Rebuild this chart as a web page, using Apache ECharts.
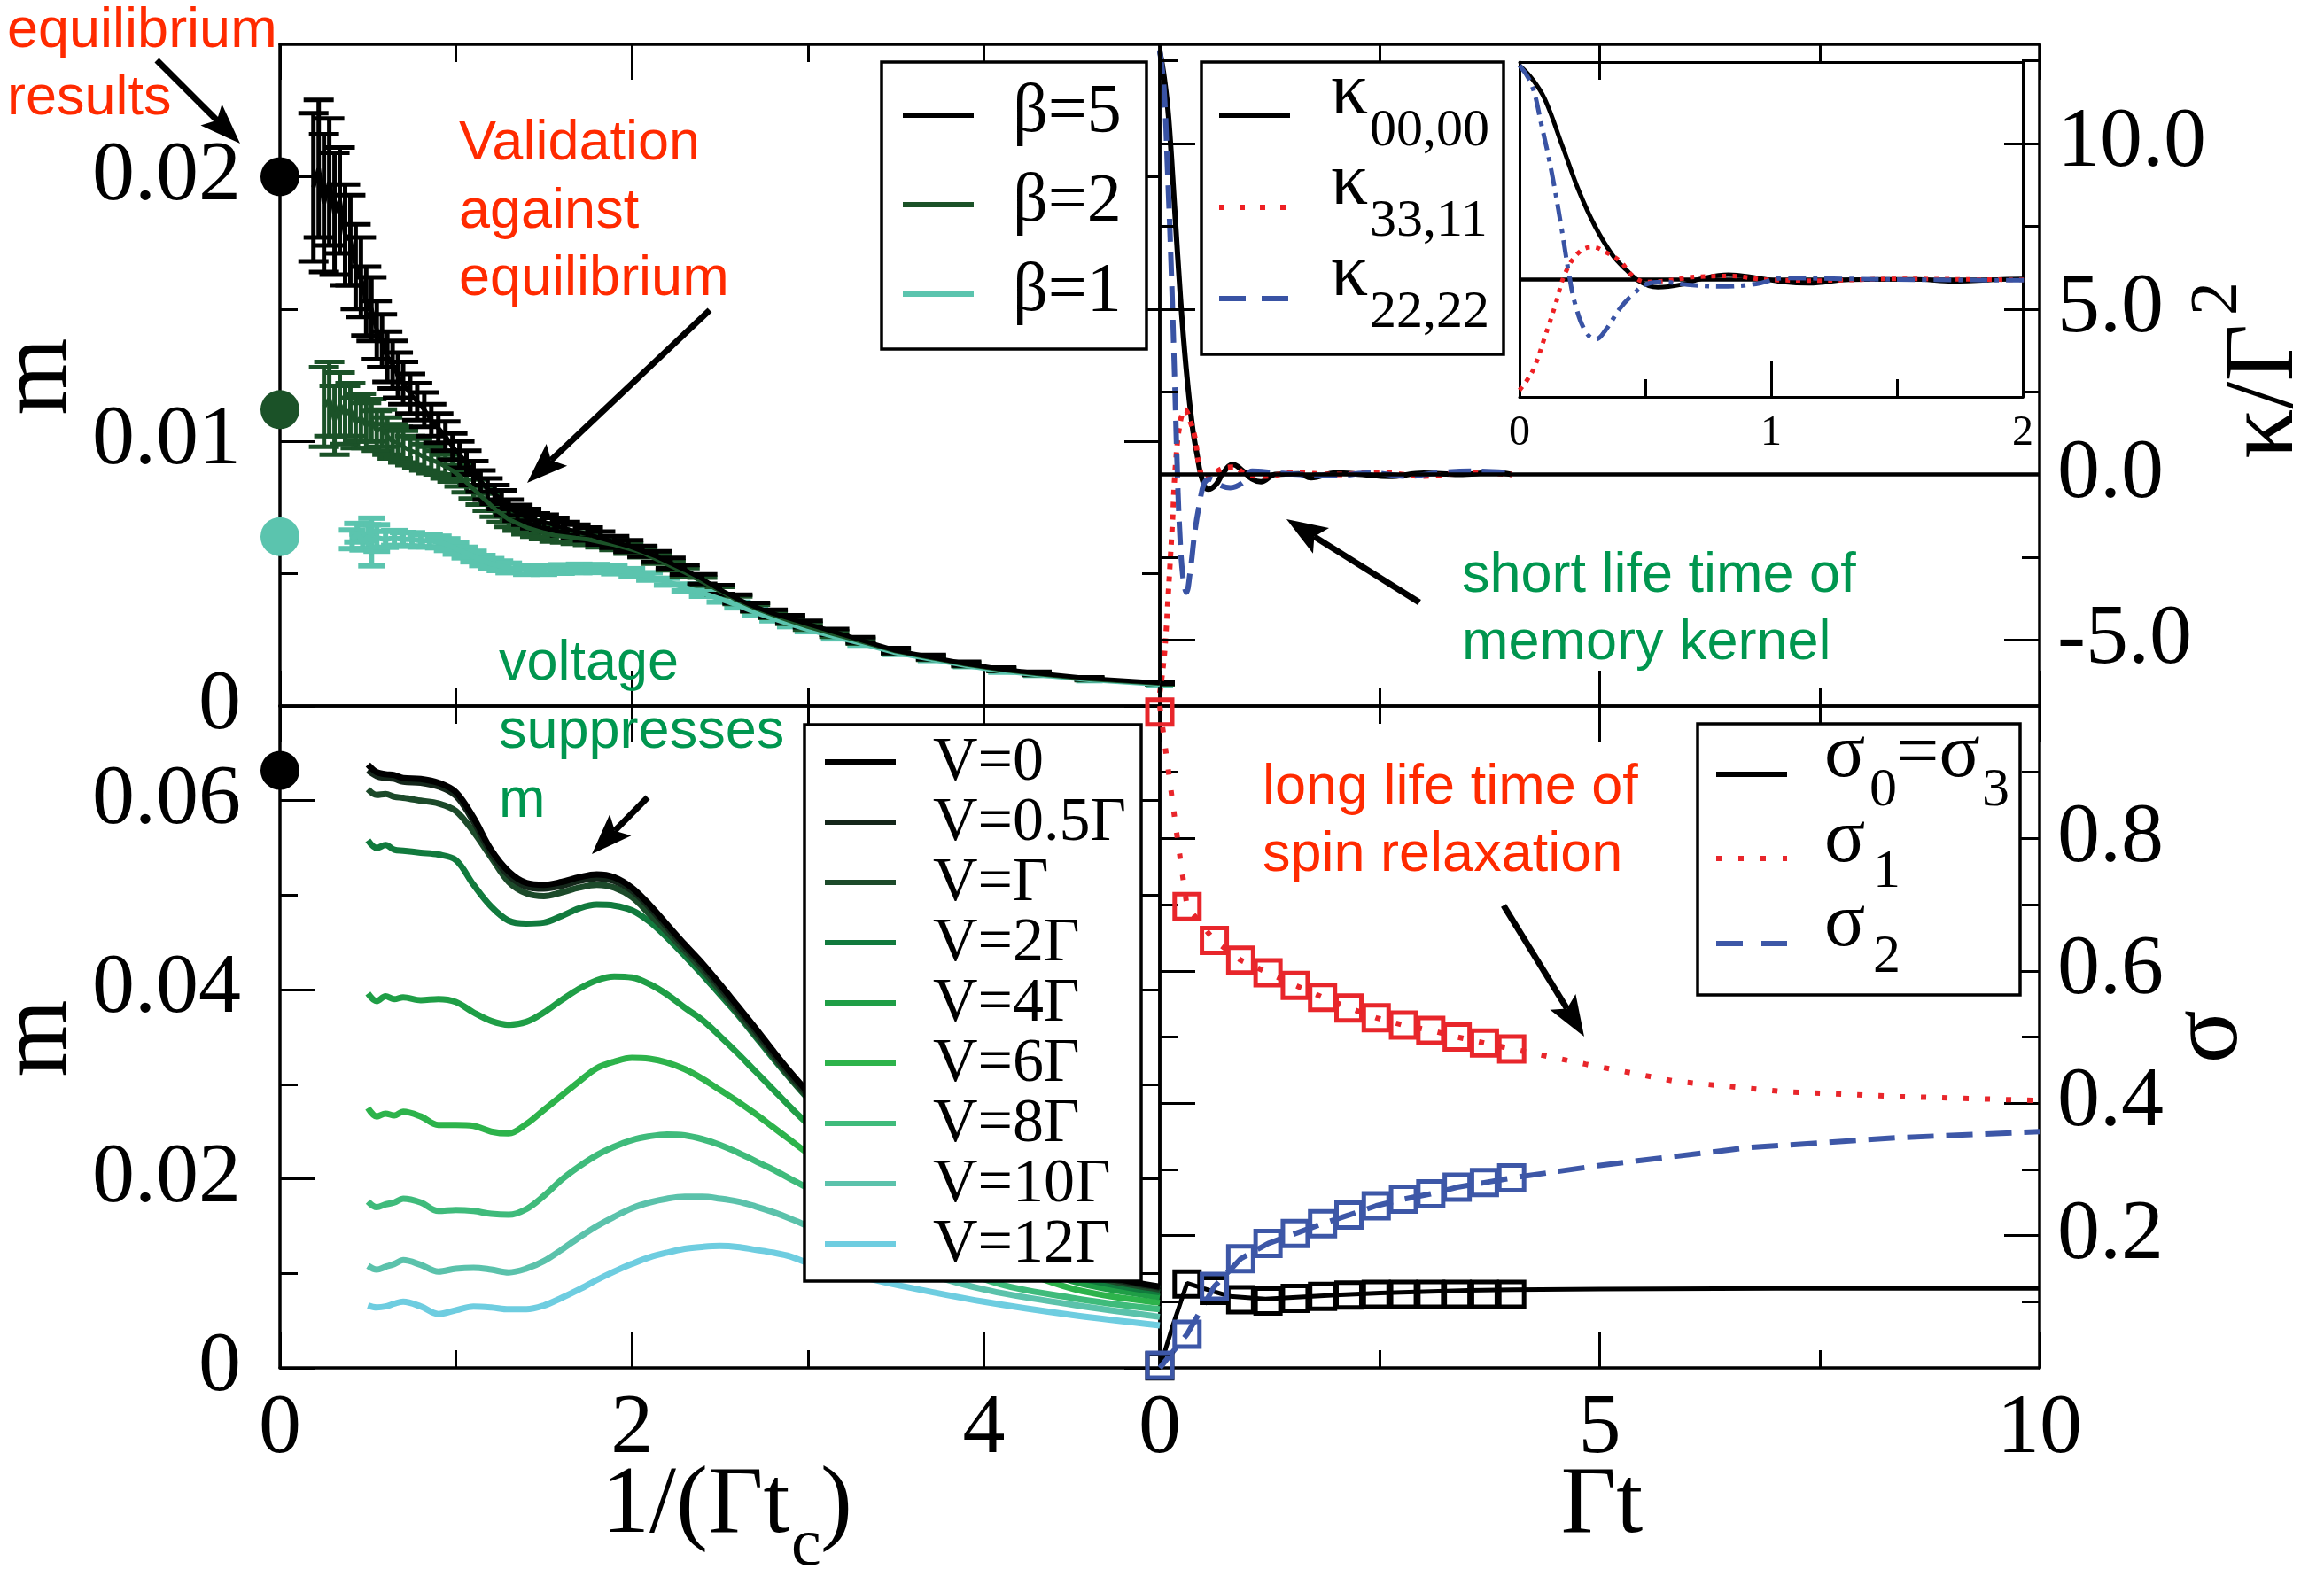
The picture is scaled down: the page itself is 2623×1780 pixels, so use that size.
<!DOCTYPE html>
<html><head><meta charset="utf-8">
<script src="https://cdn.jsdelivr.net/npm/echarts@6/dist/echarts.min.js"></script>
<style>html,body{margin:0;padding:0;background:#fff}#c{width:2623px;height:1780px}</style>
</head><body><div id="c"></div>
<script>
// ================= DATA =================
// top-left: m vs 1/(Γ t_c), [x, m, error]
const beta5 = [[0.19,0.0196,0.0028],[0.22,0.0203,0.0026],[0.25,0.0190,0.0026],[0.28,0.0198,0.0024],[0.31,0.0186,0.0023],[0.34,0.0191,0.0020],[0.37,0.0178,0.0019],[0.40,0.0176,0.0017],[0.43,0.0166,0.0016],[0.46,0.0162,0.0015],[0.49,0.0153,0.0013],[0.52,0.0150,0.0012],[0.55,0.0142,0.0011],[0.58,0.0138,0.0010],[0.61,0.0132,0.00095],[0.64,0.0129,0.0009],[0.67,0.0125,0.00085],[0.70,0.0122,0.0008],[0.74,0.0118,0.00075],[0.78,0.0115,0.0007],[0.82,0.0112,0.00065],[0.86,0.0108,0.0006],[0.90,0.0105,0.00055],[0.94,0.0102,0.00055],[0.98,0.0098,0.0005],[1.02,0.0095,0.0005],[1.06,0.0092,0.00045],[1.10,0.0088,0.00045],[1.14,0.0085,0.0004],[1.18,0.0082,0.0004],[1.22,0.0080,0.00035],[1.26,0.0078,0.00035],[1.30,0.0075,0.0003],[1.35,0.0073,0.0003],[1.40,0.00715,0.0003],[1.45,0.0070,0.00028],[1.50,0.00695,0.00028],[1.56,0.00685,0.00026],[1.62,0.0067,0.00025],[1.68,0.0066,0.00025],[1.75,0.0065,0.00024],[1.82,0.00635,0.00024],[1.90,0.0062,0.00022],[1.98,0.00605,0.00022],[2.06,0.00585,0.0002],[2.14,0.00565,0.0002],[2.22,0.0054,0.0002],[2.30,0.00515,0.00018],[2.40,0.0048,0.00018],[2.50,0.0044,0.00017],[2.60,0.00405,0.00016],[2.70,0.00375,0.00015],[2.80,0.0035,0.00014],[2.90,0.0033,0.00013],[3.00,0.0031,0.00012],[3.15,0.0028,0.00011],[3.30,0.0025,0.0001],[3.50,0.0021,0.00009],[3.70,0.00185,0.00008],[3.90,0.0016,0.00007],[4.10,0.0014,0.00006],[4.30,0.00125,0.00005],[4.60,0.00105,0.00004],[5.00,0.00088,0.00003]];
const beta2 = [[0.25,0.0113,0.0015],[0.28,0.0116,0.0014],[0.31,0.0108,0.0013],[0.34,0.0114,0.0012],[0.37,0.0110,0.0011],[0.40,0.0112,0.0010],[0.43,0.0107,0.00095],[0.46,0.0109,0.0009],[0.49,0.0106,0.00085],[0.52,0.0108,0.0008],[0.55,0.0104,0.00075],[0.58,0.0105,0.0007],[0.61,0.0102,0.0007],[0.64,0.0100,0.00065],[0.67,0.00995,0.0006],[0.70,0.0098,0.0006],[0.74,0.00965,0.00055],[0.78,0.00955,0.00055],[0.82,0.0094,0.0005],[0.86,0.0093,0.0005],[0.90,0.0092,0.00045],[0.94,0.00905,0.00045],[0.98,0.0089,0.00042],[1.02,0.0087,0.0004],[1.06,0.00845,0.00038],[1.10,0.0082,0.00036],[1.14,0.00795,0.00034],[1.18,0.0077,0.00032],[1.22,0.00745,0.0003],[1.26,0.00725,0.0003],[1.30,0.00705,0.00028],[1.35,0.0069,0.00027],[1.40,0.00675,0.00026],[1.45,0.00665,0.00025],[1.50,0.00655,0.00024],[1.56,0.00645,0.00023],[1.62,0.0064,0.00022],[1.68,0.00635,0.00022],[1.75,0.0063,0.00021],[1.82,0.0062,0.0002],[1.90,0.0061,0.0002],[1.98,0.00595,0.00019],[2.06,0.0058,0.00018],[2.14,0.00555,0.00017],[2.22,0.0053,0.00017],[2.30,0.00505,0.00016],[2.40,0.0047,0.00015],[2.50,0.00435,0.00015],[2.60,0.0040,0.00014],[2.70,0.0037,0.00013],[2.80,0.00345,0.00012],[2.90,0.00322,0.00012],[3.00,0.0030,0.00011],[3.15,0.00272,0.0001],[3.30,0.00245,0.00009],[3.50,0.00207,0.00008],[3.70,0.00182,0.00007],[3.90,0.00157,0.00006],[4.10,0.00137,0.00005],[4.30,0.00122,0.00005],[4.60,0.00102,0.00004],[5.00,0.00085,0.00003]];
const beta1 = [[0.41,0.0063,0.00035],[0.44,0.00655,0.00035],[0.47,0.0062,0.0003],[0.50,0.0064,0.00045],[0.52,0.0062,0.0009],[0.55,0.00635,0.0005],[0.60,0.0063,0.0003],[0.65,0.00635,0.00028],[0.70,0.0063,0.00026],[0.75,0.0063,0.00025],[0.80,0.00625,0.00024],[0.85,0.00625,0.00023],[0.90,0.0062,0.00022],[0.95,0.0061,0.00022],[1.00,0.00595,0.00021],[1.05,0.0058,0.0002],[1.10,0.00565,0.0002],[1.15,0.0055,0.00019],[1.20,0.00538,0.00019],[1.25,0.0053,0.00018],[1.30,0.00522,0.00018],[1.40,0.00515,0.00017],[1.50,0.00515,0.00017],[1.60,0.00518,0.00016],[1.70,0.0052,0.00016],[1.80,0.0052,0.00015],[1.90,0.00515,0.00015],[2.00,0.00505,0.00014],[2.10,0.0049,0.00014],[2.20,0.0047,0.00013],[2.30,0.00448,0.00013],[2.40,0.00427,0.00012],[2.50,0.00405,0.00012],[2.60,0.00382,0.00011],[2.70,0.00355,0.00011],[2.80,0.00332,0.0001],[2.90,0.0031,0.0001],[3.00,0.0029,0.00009],[3.15,0.00263,0.00009],[3.30,0.00238,0.00008],[3.50,0.00202,0.00007],[3.70,0.00178,0.00006],[3.90,0.00154,0.00005],[4.10,0.00133,0.00005],[4.30,0.0012,0.00004],[4.60,0.001,0.00004],[5.00,0.00083,0.00003]];
const betaNames = ['β=5', 'β=2', 'β=1'];
const eqBeta = [0.0200, 0.0112, 0.0064];   // equilibrium results at x = 0
const eqV0 = 0.0632;

// bottom-left: m vs 1/(Γ t_c) for several voltages
const vX = [0.5,0.55,0.6,0.65,0.7,0.8,0.9,1.0,1.1,1.2,1.3,1.4,1.5,1.6,1.7,1.8,1.9,2.0,2.1,2.2,2.3,2.4,2.5,2.6,2.7,2.8,2.9,3.0,3.25,3.5,4.0,4.5,5.0];
const vNames = ['V=0','V=0.5Γ','V=Γ','V=2Γ','V=4Γ','V=6Γ','V=8Γ','V=10Γ','V=12Γ'];
const mV0  = [0.0638,0.0630,0.0628,0.0627,0.0624,0.0623,0.0619,0.0609,0.0582,0.0548,0.0525,0.0513,0.0511,0.0514,0.0519,0.0522,0.0519,0.0508,0.0490,0.0469,0.0448,0.0428,0.0406,0.0383,0.0360,0.0336,0.0313,0.0292,0.0245,0.0202,0.0146,0.0106,0.0086];
const mV05 = [0.0632,0.0626,0.0624,0.0623,0.0620,0.0619,0.0615,0.0605,0.0578,0.0544,0.0521,0.0509,0.0507,0.0510,0.0515,0.0518,0.0515,0.0505,0.0487,0.0466,0.0445,0.0425,0.0403,0.0380,0.0357,0.0333,0.0310,0.0289,0.0242,0.0200,0.0144,0.0104,0.0085];
const mV1  = [0.0612,0.0606,0.0607,0.0604,0.0603,0.0600,0.0597,0.0589,0.0567,0.0540,0.0514,0.0502,0.0499,0.0503,0.0508,0.0511,0.0508,0.0498,0.0480,0.0461,0.0441,0.0421,0.0399,0.0376,0.0353,0.0330,0.0307,0.0286,0.0240,0.0198,0.0143,0.0102,0.0083];
const mV2  = [0.0558,0.0550,0.0553,0.0548,0.0547,0.0545,0.0543,0.0537,0.0511,0.0488,0.0473,0.0470,0.0471,0.0478,0.0486,0.0490,0.0489,0.0484,0.0472,0.0455,0.0436,0.0416,0.0395,0.0374,0.0351,0.0328,0.0306,0.0285,0.0238,0.0195,0.0140,0.0098,0.0080];
const mV4  = [0.0396,0.0388,0.0393,0.0390,0.0392,0.0389,0.0390,0.0387,0.0376,0.0367,0.0363,0.0366,0.0376,0.0389,0.0401,0.0410,0.0414,0.0413,0.0406,0.0395,0.0381,0.0368,0.0351,0.0333,0.0314,0.0295,0.0276,0.0258,0.0217,0.0180,0.0130,0.0092,0.0075];
const mV6  = [0.0275,0.0266,0.0269,0.0267,0.0271,0.0266,0.0257,0.0257,0.0256,0.0250,0.0248,0.0258,0.0273,0.0288,0.0303,0.0317,0.0324,0.0328,0.0327,0.0323,0.0316,0.0306,0.0294,0.0282,0.0269,0.0255,0.0241,0.0227,0.0195,0.0165,0.0120,0.0084,0.0069];
const mV8  = [0.0176,0.0170,0.0173,0.0175,0.0179,0.0175,0.0166,0.0167,0.0166,0.0163,0.0162,0.0168,0.0182,0.0199,0.0213,0.0225,0.0234,0.0241,0.0245,0.0247,0.0246,0.0242,0.0236,0.0228,0.0219,0.0210,0.0200,0.0190,0.0163,0.0140,0.0094,0.0074,0.0062];
const mV10 = [0.0108,0.0104,0.0107,0.0110,0.0114,0.0109,0.0102,0.0105,0.0106,0.0104,0.0101,0.0105,0.0113,0.0125,0.0138,0.0150,0.0160,0.0169,0.0175,0.0179,0.0181,0.0181,0.0179,0.0176,0.0171,0.0165,0.0158,0.0150,0.0129,0.0110,0.0083,0.0067,0.0054];
const mV12 = [0.0066,0.0064,0.0065,0.0068,0.0070,0.0065,0.0057,0.0061,0.0065,0.0064,0.0062,0.0062,0.0066,0.0074,0.0083,0.0093,0.0102,0.0110,0.0117,0.0122,0.0126,0.0128,0.0129,0.0128,0.0125,0.0122,0.0118,0.0111,0.0099,0.0088,0.0070,0.0056,0.0045];

// top-right: memory kernels κ/Γ² vs Γt, [t, value]
const k00 = [[0,12.8],[0.05,12.0],[0.10,10.8],[0.17,8.0],[0.236,5.3],[0.30,3.2],[0.37,1.46],[0.425,0.58],[0.48,-0.13],[0.55,-0.45],[0.64,-0.3],[0.72,0.05],[0.83,0.3],[0.94,0.12],[1.05,-0.14],[1.15,-0.22],[1.31,0],[1.58,0.02],[1.72,-0.1],[2.0,0.05],[2.3,0],[2.6,-0.06],[3.0,0.04],[3.4,0],[3.8,0.06],[4.0,0]];
const k33 = [[0,-6.6],[0.03,-6.0],[0.06,-5.2],[0.10,-3.45],[0.142,-1.53],[0.182,0.4],[0.236,1.63],[0.29,1.95],[0.344,1.63],[0.40,1.1],[0.45,0.23],[0.506,-0.13],[0.587,-0.05],[0.71,0.18],[0.84,0.22],[0.98,0],[1.2,-0.05],[1.5,0.05],[2.0,0],[2.5,0.06],[3.0,-0.05],[3.5,0.06],[4.0,0]];
const k22 = [[0,12.8],[0.047,11.7],[0.088,9.2],[0.128,6.4],[0.169,2.9],[0.196,0.4],[0.222,-1.5],[0.263,-3.1],[0.303,-3.56],[0.344,-2.97],[0.40,-1.7],[0.45,-0.9],[0.506,-0.26],[0.573,-0.14],[0.667,-0.3],[0.80,-0.4],[0.94,-0.25],[1.05,0.1],[1.31,0.05],[1.6,0],[2.0,-0.03],[2.4,0.05],[2.8,-0.05],[3.2,0.06],[3.6,0.1],[4.0,0.05]];

// bottom-right: σ vs Γt ; squares = data points, lines = curves
const sigT   = [0,0.31,0.62,0.92,1.23,1.54,1.85,2.15,2.46,2.77,3.08,3.38,3.69,4.0];
const sig0Sq = [0.003,0.127,0.117,0.103,0.101,0.105,0.108,0.110,0.111,0.111,0.111,0.111,0.111,0.111];
const sig1Sq = [0.991,0.697,0.646,0.616,0.597,0.578,0.560,0.544,0.529,0.518,0.510,0.500,0.491,0.482];
const sig2Sq = [0.004,0.051,0.123,0.165,0.188,0.203,0.218,0.231,0.245,0.255,0.263,0.273,0.280,0.287];
const sig0Line = [[0,0],[0.15,0.065],[0.31,0.128],[0.5,0.12],[0.8,0.108],[1.2,0.104],[1.6,0.107],[2.0,0.11],[2.5,0.113],[3.0,0.115],[3.5,0.117],[4.0,0.118],[5.0,0.119],[7.0,0.12],[10.0,0.12]];
const sig1Line = [[0,1.0],[0.1,0.9],[0.2,0.8],[0.31,0.697],[0.62,0.646],[0.92,0.616],[1.23,0.597],[1.54,0.578],[1.85,0.56],[2.15,0.544],[2.46,0.529],[2.77,0.518],[3.08,0.51],[3.38,0.5],[3.69,0.491],[4.0,0.482],[4.84,0.459],[5.86,0.433],[7.13,0.417],[8.41,0.41],[10,0.404]];
const sig2Line = [[0,0],[0.31,0.051],[0.62,0.123],[0.92,0.165],[1.23,0.188],[1.54,0.203],[1.85,0.218],[2.15,0.231],[2.46,0.245],[2.77,0.255],[3.08,0.263],[3.38,0.273],[3.69,0.28],[4.0,0.287],[5.0,0.306],[6.7,0.333],[8.4,0.348],[10,0.357]];

// tick values / labels
const leftXMajor = [0,2,4], leftXMinor = [1,3], leftXLabVals = [0,2,4], leftXLabels = ['0','2','4'];
const tlYMajor = [0,0.01,0.02], tlYMinor = [0.005,0.015], tlYLabels = ['0','0.01','0.02'];
const blYMajor = [0,0.02,0.04,0.06], blYMinor = [0.01,0.03,0.05], blYLabels = ['0','0.02','0.04','0.06'];
const rightXMajor = [0,5,10], rightXMinor = [2.5,7.5], rightXLabVals = [0,5,10], rightXLabels = ['0','5','10'];
const kYMajor = [-5,0,5,10], kYMinor = [-2.5,2.5,7.5,12.5], kYLabels = ['-5.0','0.0','5.0','10.0'];
const sYMajor = [0.2,0.4,0.6,0.8], sYMinor = [0.1,0.3,0.5,0.7,0.9], sYLabels = ['0.2','0.4','0.6','0.8'];
const inXMajor = [0,1,2], inXMinor = [0.5,1.5], inXLabels = ['0','1','2'];

// ================= STYLE / LAYOUT =================
const SERIF = "'Liberation Serif','Times New Roman',serif";
const SANS = "'Liberation Sans',Arial,sans-serif";
const RED_TXT = '#ff2a00', GREEN_TXT = '#00964f';
const betaColors = ['#000000', '#1b5228', '#5bc4ae'];
const vColors = ['#000000','#14261a','#1c4a2a','#117a3d','#1f9e46','#2db34b','#3fbb7b','#5bc2ab','#6ecde0'];
const K_RED = '#ee2024', K_BLUE = '#3953a4';
const S_RED = '#e8262b', S_BLUE = '#3d57a7';

const grids = [
  {left:316, top:50, width:993, height:747},
  {left:316, top:797, width:993, height:747},
  {left:1309, top:50, width:993, height:747},
  {left:1309, top:797, width:993, height:747},
  {left:1715, top:70, width:568, height:378, show:true, backgroundColor:'#fff', borderWidth:0, z:3}
].map(g => Object.assign({containLabel:false, outerBoundsMode:'none'}, g));

const xAxis = [], yAxis = [];
function addAxes(arr, grid, sides, c) {
  const first = arr.length;
  sides.forEach(side => {
    const lab = side === c.labelSide;
    arr.push({
      type:'value', gridIndex:grid, position:side, min:c.min, max:c.max, z:c.z || 3,
      splitLine:{show:false},
      axisLine:{show:true, onZero:false, lineStyle:{color:'#000', width:c.lw || 3.5}},
      axisTick:{show:!!c.major, inside:true, length:c.majorLen || 40, lineStyle:{color:'#000', width:3}, customValues:c.major || []},
      axisLabel:{show:lab, customValues:c.labelVals, fontFamily:SERIF, fontSize:c.fontSize || 96, color:'#000', margin:c.margin || 0,
        formatter:(v) => { const i = (c.labelVals || []).indexOf(v); return i >= 0 ? c.labelText[i] : ''; }}
    });
    if (c.minor) {
      arr.push({
        type:'value', gridIndex:grid, position:side, min:c.min, max:c.max, z:c.z || 3,
        splitLine:{show:false}, axisLine:{show:false, onZero:false},
        axisTick:{show:true, inside:true, length:c.minorLen || 20, lineStyle:{color:'#000', width:3}, customValues:c.minor},
        axisLabel:{show:false}
      });
    }
  });
  return first;
}
const ax = {};
ax.tlX = addAxes(xAxis, 0, ['bottom','top'], {min:0, max:5, major:leftXMajor, minor:leftXMinor});
ax.tlY = addAxes(yAxis, 0, ['left','right'], {min:0, max:0.025, major:tlYMajor, minor:tlYMinor, labelSide:'left', labelVals:tlYMajor, labelText:tlYLabels, margin:44});
ax.blX = addAxes(xAxis, 1, ['bottom','top'], {min:0, max:5, major:leftXMajor, minor:leftXMinor, labelSide:'bottom', labelVals:leftXLabVals, labelText:leftXLabels, margin:22});
ax.blY = addAxes(yAxis, 1, ['left','right'], {min:0, max:0.07, major:blYMajor, minor:blYMinor, labelSide:'left', labelVals:blYMajor, labelText:blYLabels, margin:44});
ax.trX = addAxes(xAxis, 2, ['bottom','top'], {min:0, max:10, major:rightXMajor, minor:rightXMinor});
ax.trY = addAxes(yAxis, 2, ['left','right'], {min:-7, max:13, major:kYMajor, minor:kYMinor, labelSide:'right', labelVals:kYMajor, labelText:kYLabels, margin:20});
ax.brX = addAxes(xAxis, 3, ['bottom','top'], {min:0, max:10, major:rightXMajor, minor:rightXMinor, labelSide:'bottom', labelVals:rightXLabVals, labelText:rightXLabels, margin:22});
ax.brY = addAxes(yAxis, 3, ['left','right'], {min:0, max:1, major:sYMajor, minor:sYMinor, labelSide:'right', labelVals:sYMajor, labelText:sYLabels, margin:20});
ax.inX = addAxes(xAxis, 4, ['bottom'], {min:0, max:2, major:inXMajor, minor:inXMinor, labelSide:'bottom', labelVals:inXMajor, labelText:inXLabels, margin:17, fontSize:48, lw:3, z:6});
addAxes(xAxis, 4, ['top'], {min:0, max:2, lw:3, z:6});
ax.inY = addAxes(yAxis, 4, ['left','right'], {min:-7, max:13, lw:3, z:6});

// ================= SERIES =================
const series = [];
function errSeries(data, color, xi, yi, lw, capW) {
  return {type:'custom', xAxisIndex:xi, yAxisIndex:yi, data:data, silent:true, clip:false, encode:{x:0, y:1},
    renderItem:(params, api) => {
      const x = api.value(0), y = api.value(1), e = api.value(2);
      const lo = api.coord([x, y - e]), hi = api.coord([x, y + e]);
      const st = {stroke:color, lineWidth:lw};
      return {type:'group', children:[
        {type:'line', shape:{x1:lo[0], y1:lo[1], x2:hi[0], y2:hi[1]}, style:st},
        {type:'line', shape:{x1:lo[0]-capW/2, y1:lo[1], x2:lo[0]+capW/2, y2:lo[1]}, style:st},
        {type:'line', shape:{x1:hi[0]-capW/2, y1:hi[1], x2:hi[0]+capW/2, y2:hi[1]}, style:st}
      ]};
    }};
}
[[beta1, 2, 6, 6, 30], [beta2, 1, 5, 5, 34], [beta5, 0, 5, 5, 34]].forEach(([d, ci, elw, llw, cw]) => {
  series.push(errSeries(d, betaColors[ci], ax.tlX, ax.tlY, elw, cw));
  series.push({type:'line', name:betaNames[ci], xAxisIndex:ax.tlX, yAxisIndex:ax.tlY, data:d.map(p => [p[0], p[1]]),
    symbol:'none', lineStyle:{color:betaColors[ci], width:llw}});
});
series.push({type:'scatter', xAxisIndex:ax.tlX, yAxisIndex:ax.tlY, symbolSize:44, clip:false, z:5,
  data:eqBeta.map((v, i) => ({value:[0, v], itemStyle:{color:betaColors[i], opacity:1}}))});

const vSeriesData = [mV0, mV05, mV1, mV2, mV4, mV6, mV8, mV10, mV12];
for (let i = vSeriesData.length - 1; i >= 0; i--) {
  series.push({type:'line', name:vNames[i], xAxisIndex:ax.blX, yAxisIndex:ax.blY, smooth:0.35, symbol:'none',
    data:vX.map((x, j) => [x, vSeriesData[i][j]]), lineStyle:{color:vColors[i], width:7}});
}
series.push({type:'scatter', xAxisIndex:ax.blX, yAxisIndex:ax.blY, symbolSize:44, clip:false, z:5,
  data:[{value:[0, eqV0], itemStyle:{color:'#000', opacity:1}}]});

function kSeries(xi, yi, z, inset) {
  const zero = {silent:true, symbol:['none','none'], label:{show:false}, lineStyle:{color:'#000', width:4.5, type:'solid'}, data:[{yAxis:0}]};
  const w = inset ? 5 : 6;
  return [
    {type:'line', name:'κ00,00', xAxisIndex:xi, yAxisIndex:yi, z:z, smooth:0.4, symbol:'none', data:k00,
      lineStyle:{color:'#000', width:w}, markLine:zero},
    {type:'line', name:'κ33,11', xAxisIndex:xi, yAxisIndex:yi, z:z, smooth:0.4, symbol:'none', data:k33,
      lineStyle:{color:K_RED, width:w, type:inset ? [5,7] : [6,8]}},
    {type:'line', name:'κ22,22', xAxisIndex:xi, yAxisIndex:yi, z:z, smooth:0.4, symbol:'none', data:k22,
      lineStyle:{color:K_BLUE, width:w, type:inset ? [20,8,5,8] : [26,12]}}
  ];
}
series.push(...kSeries(ax.trX, ax.trY, 2, false));
series.push(...kSeries(ax.inX, ax.inY, 6, true));

series.push({type:'line', name:'σ0=σ3', xAxisIndex:ax.brX, yAxisIndex:ax.brY, symbol:'none', data:sig0Line, lineStyle:{color:'#000', width:5}});
series.push({type:'line', name:'σ1', xAxisIndex:ax.brX, yAxisIndex:ax.brY, symbol:'none', data:sig1Line, lineStyle:{color:S_RED, width:6, type:[6,18]}});
series.push({type:'line', name:'σ2', xAxisIndex:ax.brX, yAxisIndex:ax.brY, symbol:'none', data:sig2Line, lineStyle:{color:S_BLUE, width:6, type:[30,14]}});
[[sig0Sq, '#000'], [sig1Sq, S_RED], [sig2Sq, S_BLUE]].forEach(([d, c]) => {
  series.push({type:'scatter', xAxisIndex:ax.brX, yAxisIndex:ax.brY, symbol:'rect', symbolSize:28, clip:false, z:4,
    data:sigT.map((t, j) => [t, d[j]]), itemStyle:{color:'rgba(255,255,255,0)', borderColor:c, borderWidth:5, opacity:1}});
});

// ================= GRAPHIC (legends, annotations, titles) =================
const gfx = [];
function txt(str, x, base, size, color, family, align) {
  const k = family === SANS ? 0.3465 : 0.3375;
  gfx.push({type:'text', z:100, x:x, y:base - k * size,
    style:{text:str, fontSize:size, fontFamily:family, fill:color, align:align || 'left', verticalAlign:'middle'}});
}
function box(x, y, w, h) {
  gfx.push({type:'rect', z:99, shape:{x:x, y:y, width:w, height:h}, style:{fill:'#fff', stroke:'#000', lineWidth:3.5}});
}
function sample(x1, x2, y, color, width, dash) {
  gfx.push({type:'line', z:100, shape:{x1:x1, y1:y, x2:x2, y2:y}, style:{stroke:color, lineWidth:width, lineDash:dash || null, lineCap:'butt'}});
}
function arrow(x1, y1, x2, y2) {
  const dx = x2 - x1, dy = y2 - y1, L = Math.hypot(dx, dy), ux = dx / L, uy = dy / L;
  const hl = 46, hw = 17, notch = 9;
  const bx = x2 - ux * hl, by = y2 - uy * hl, nx = bx + ux * notch, ny = by + uy * notch;
  gfx.push({type:'line', z:100, shape:{x1:x1, y1:y1, x2:nx, y2:ny}, style:{stroke:'#000', lineWidth:7}});
  gfx.push({type:'polygon', z:100, shape:{points:[[x2, y2], [bx - uy * hw, by + ux * hw], [nx, ny], [bx + uy * hw, by - ux * hw]]}, style:{fill:'#000'}});
}

// β legend
box(995, 70, 299, 324);
[130, 231, 332].forEach((y, i) => { sample(1019, 1099, y, betaColors[i], 6); txt(betaNames[i], 1143, y + 24, 78, '#000', SERIF); });
// V legend
box(908, 818, 380, 628);
vNames.forEach((n, i) => { const y = 860 + 68 * i; sample(931, 1011, y, vColors[i], 6); txt(n, 1053, y + 25, 70, '#000', SERIF); });
// κ legend
box(1356, 70, 341, 330);
sample(1376, 1456, 130, '#000', 6);
sample(1376, 1456, 234, K_RED, 6, [6, 17]);
sample(1376, 1456, 337, K_BLUE, 6, [30, 18]);
[['00,00', 134], ['33,11', 236], ['22,22', 339]].forEach(([s, b]) => { txt('κ', 1502, b, 84, '#000', SERIF); txt(s, 1546, b + 34, 60, '#000', SERIF); });
// σ legend
box(1916, 817, 364, 306);
sample(1937, 2017, 874, '#000', 6);
sample(1937, 2017, 969, S_RED, 6, [6, 19]);
sample(1937, 2017, 1065, S_BLUE, 6, [30, 21]);
txt('σ', 2059, 882, 86, '#000', SERIF); txt('0', 2110, 914, 62, '#000', SERIF);
txt('=σ', 2140, 882, 86, '#000', SERIF); txt('3', 2237, 914, 62, '#000', SERIF);
txt('σ', 2059, 978, 86, '#000', SERIF); txt('1', 2114, 1006, 62, '#000', SERIF);
txt('σ', 2059, 1073, 86, '#000', SERIF); txt('2', 2114, 1102, 62, '#000', SERIF);

// annotations
const AF = 63;
txt('equilibrium', 8, 57, AF, RED_TXT, SANS); txt('results', 8, 133, AF, RED_TXT, SANS);
arrow(177, 68, 271, 162);
txt('Validation', 518, 184, AF, RED_TXT, SANS); txt('against', 518, 261, AF, RED_TXT, SANS); txt('equilibrium', 518, 337, AF, RED_TXT, SANS);
arrow(801, 350, 595, 545);
txt('voltage', 563, 771, AF, GREEN_TXT, SANS); txt('suppresses', 563, 848, AF, GREEN_TXT, SANS); txt('m', 563, 926, AF, GREEN_TXT, SANS);
arrow(731, 900, 668, 964);
txt('short life time of', 1650, 672, AF, GREEN_TXT, SANS); txt('memory kernel', 1650, 748, AF, GREEN_TXT, SANS);
arrow(1602, 680, 1452, 586);
txt('long life time of', 1425, 911, AF, RED_TXT, SANS); txt('spin relaxation', 1425, 987, AF, RED_TXT, SANS);
arrow(1697, 1022, 1788, 1170);

// axis titles
txt('1/(Γt', 679, 1737, 108, '#000', SERIF);
txt('c', 893, 1772, 76, '#000', SERIF);
txt(')', 926, 1737, 108, '#000', SERIF);
txt('Γt', 1808, 1737, 108, '#000', SERIF, 'center');
[425, 1172].forEach(y => gfx.push({type:'text', z:100, x:45, y:y, rotation:Math.PI / 2,
  style:{text:'m', fontSize:112, fontFamily:SERIF, fill:'#000', align:'center', verticalAlign:'middle'}}));
gfx.push({type:'text', z:100, x:2495, y:1170, rotation:Math.PI / 2,
  style:{text:'σ', fontSize:112, fontFamily:SERIF, fill:'#000', align:'center', verticalAlign:'middle'}});
gfx.push({type:'group', z:100, x:2595, y:518, rotation:Math.PI / 2, children:[
  {type:'text', z:100, x:0, y:-0.3375 * 112, style:{text:'κ/Γ', fontSize:112, fontFamily:SERIF, fill:'#000', align:'left', verticalAlign:'middle'}},
  {type:'text', z:100, x:162, y:-65 - 0.3375 * 76, style:{text:'2', fontSize:76, fontFamily:SERIF, fill:'#000', align:'left', verticalAlign:'middle'}}
]});

const chart = echarts.init(document.getElementById('c'), null, {renderer:'canvas', width:2623, height:1780});
chart.setOption({animation:false, backgroundColor:'#fff', grid:grids, xAxis:xAxis, yAxis:yAxis, series:series, graphic:{elements:gfx}});
</script></body></html>
